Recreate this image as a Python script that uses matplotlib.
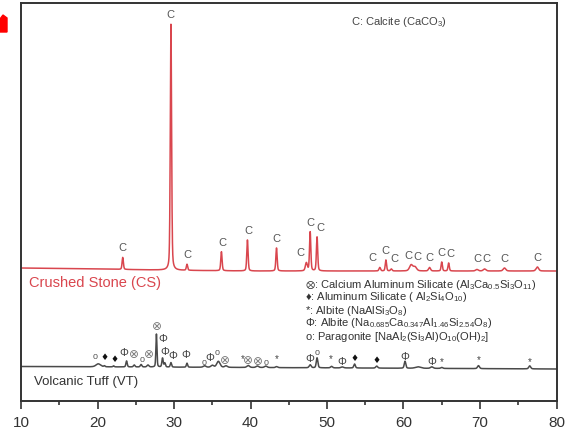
import numpy as np
import matplotlib
matplotlib.use("Agg")
from matplotlib import pyplot as plt
from matplotlib.patches import Polygon

plt.rcParams['font.family'] = ['Liberation Sans', 'DejaVu Sans']
plt.rcParams['mathtext.default'] = 'regular'

# --- data (2theta in degrees, intensity in a.u.) ---
# Crushed stone: calcite peaks
cs_pos = [23.3, 29.6, 31.7, 36.2, 39.6, 43.4, 47.3, 47.8, 48.7, 56.9, 57.7,
          58.4, 61.0, 61.5, 63.4, 65.0, 65.9, 69.6, 70.6, 73.2, 77.5]
cs_height = [12, 246, 6, 19, 31, 23, 8, 39, 34, 3.5, 11,
             2, 6, 4, 3.5, 9, 8, 1.5, 2, 3, 4]
cs_width = [0.1, 0.1, 0.1, 0.1, 0.1, 0.1, 0.15, 0.1, 0.1, 0.12, 0.1,
            0.12, 0.25, 0.25, 0.15, 0.1, 0.1, 0.2, 0.2, 0.2, 0.2]
cs_bg_x = [10, 20, 30, 40, 80]
cs_bg_y = [133, 132, 130.7, 130, 130]
cs_label_x = [23.2, 29.5, 31.7, 36.3, 39.7, 43.4, 46.5, 47.8, 49.1, 56.0, 57.6,
              58.8, 60.6, 61.8, 63.4, 64.9, 66.2, 69.6, 70.8, 73.2, 77.5]

# Volcanic tuff peaks
vt_pos = [20.1, 20.9, 22.1, 23.8, 24.8, 25.7, 26.6, 27.7, 28.5, 28.8, 29.6,
          31.7, 34.0, 35.0, 35.8, 36.8, 39.7, 40.9, 42.0, 43.4, 47.8, 48.7,
          50.6, 52.0, 53.6, 56.5, 60.2, 61.9, 63.7, 65.0, 69.8, 76.5]
vt_height = [3, 1, 1, 6, 2, 2.5, 2, 33, 9, 4, 4.5,
             4, 1.5, 2, 6, 1.5, 2, 1.5, 1.5, 1, 3, 10,
             1.5, 1, 4, 2, 7, 1.5, 1.5, 1, 3, 3]
vt_width = [0.35, 0.1, 0.1, 0.1, 0.12, 0.12, 0.15, 0.08, 0.1, 0.1, 0.1,
            0.1, 0.2, 0.2, 0.25, 0.2, 0.2, 0.2, 0.2, 0.15, 0.15, 0.12,
            0.15, 0.2, 0.12, 0.15, 0.12, 0.4, 0.2, 0.15, 0.15, 0.15]
vt_bg_x = [10, 40, 80]
vt_bg_y = [34.5, 33.5, 32]

# phase markers on the tuff pattern
vt_mark = ['o', '♦', '♦', 'Φ', '⊗', 'o', '⊗', '⊗', 'Φ', 'Φ', 'Φ', 'Φ', 'o', 'Φ',
           'o', '⊗', '*', '⊗', '⊗', 'o', '*', 'Φ', 'o', '*', 'Φ', '♦', '♦', 'Φ',
           'Φ', '*', '*', '*']
vt_mark_x = [19.7, 20.9, 22.2, 23.5, 24.8, 25.8, 26.7, 27.75, 28.6, 28.8, 29.9,
             31.6, 33.9, 34.7, 35.7, 36.7, 39.0, 39.7, 40.9, 42.1, 43.45, 47.7,
             48.7, 50.5, 51.9, 53.6, 56.5, 60.2, 63.7, 65.0, 69.8, 76.5]
vt_mark_y = [44.3, 44, 41, 48.3, 47, 41, 46.3, 74.3, 61.7, 49.3, 45,
             46, 38.7, 43.3, 48.3, 41, 41.7, 40.3, 39.3, 38.3, 41.7, 42,
             48.3, 41.7, 38.7, 42.7, 40.3, 44.3, 38.7, 38.7, 41, 39.3]

legend_lines = [
    r'$\otimes$: Calcium Aluminum Silicate (Al$_3$Ca$_{0.5}$Si$_3$O$_{11}$)',
    '♦: Aluminum Silicate ( Al$_2$Si$_4$O$_{10}$)',
    '*: Albite (NaAlSi$_3$O$_8$)',
    'Φ: Albite (Na$_{0.685}$Ca$_{0.347}$Al$_{1.46}$Si$_{2.54}$O$_8$)',
    'o: Paragonite [NaAl$_2$(Si$_3$Al)O$_{10}$(OH)$_2$]',
]


def pattern(x, pos, height, width, bg_x, bg_y):
    # pseudo-voigt peaks on a background
    y = np.interp(x, bg_x, bg_y)
    for p, h, w in zip(pos, height, width):
        lor = 1.0 / (1.0 + ((x - p) / w) ** 2)
        gau = np.exp(-np.log(2) * ((x - p) / w) ** 2)
        y = y + h * (0.35 * lor + 0.65 * gau)
    return y


def peak_top(xp, pos, height, width, bg_x, bg_y):
    return pattern(np.array([xp]), pos, height, width, bg_x, bg_y)[0]


two_theta = np.linspace(10, 80, 7001)
cs_curve = pattern(two_theta, cs_pos, cs_height, cs_width, cs_bg_x, cs_bg_y)
vt_curve = pattern(two_theta, vt_pos, vt_height, vt_width, vt_bg_x, vt_bg_y)

fig = plt.figure(figsize=(5.71, 4.32), dpi=100)
ax = fig.add_axes([21 / 571, 1 - 401 / 432, 535.5 / 571, 398 / 432])

ax.plot(two_theta, cs_curve, color='#d9464e', lw=1.1)
ax.plot(two_theta, vt_curve, color='#4a4a4a', lw=1.1)

# calcite labels
for p, lx in zip(cs_pos, cs_label_x):
    top = peak_top(p, cs_pos, cs_height, cs_width, cs_bg_x, cs_bg_y)
    ax.text(lx, max(top, 133) + 9, 'C', ha='center', va='center',
            fontsize=8, color='#555555')

# phase markers
for s, mx, my in zip(vt_mark, vt_mark_x, vt_mark_y):
    if s == 'o':
        fs, col = 6.5, '#555555'
    elif s == '*':
        fs, col = 7, '#444444'
    elif s == '♦':
        fs, col = 6.5, '#111111'
    elif s == '⊗':
        fs, col = 8.5, '#777777'
    else:
        fs, col = 8, '#444444'
    ax.text(mx, my, s, ha='center', va='center', fontsize=fs, color=col,
            family=['DejaVu Sans'] if s in ('⊗', '♦') else None)

ax.text(11.1, 401 - 282.7, 'Crushed Stone (CS)', fontsize=10.5,
        color='#d9464e', ha='left', va='center')
ax.text(11.7, 401 - 381.5, 'Volcanic Tuff (VT)', fontsize=9.5,
        color='#333333', ha='left', va='center')
ax.text(53.1, 401 - 22, 'C: Calcite (CaCO$_3$)', fontsize=8,
        color='#444444', ha='left', va='center')

for i, line in enumerate(legend_lines):
    ax.text(47.1, 401 - 284.5 - 13 * i, line, fontsize=8, color='#333333',
            ha='left', va='center')

ax.set_xlim(10, 80)
ax.set_ylim(0, 398)
ax.set_xticks(np.arange(10, 81, 10))
ax.set_xticks(np.arange(15, 80, 10), minor=True)
ax.set_yticks([])
ax.tick_params(axis='x', which='major', direction='out', length=6, width=1.2,
               colors='#333333', labelsize=11, pad=5)
ax.tick_params(axis='x', which='minor', direction='out', length=3, width=1.2,
               colors='#333333')
for sp in ax.spines.values():
    sp.set_color('#333333')
    sp.set_linewidth(1.4)

# red arrow tip cut off at the figure edge
tip = [(0, 19), (3, 15), (7, 18), (7, 32), (0, 32)]
fig.add_artist(Polygon([(px / 571, 1 - py / 432) for px, py in tip],
                       closed=True, color='#ff0000', transform=fig.transFigure))

fig.savefig('out.png', dpi=100)
